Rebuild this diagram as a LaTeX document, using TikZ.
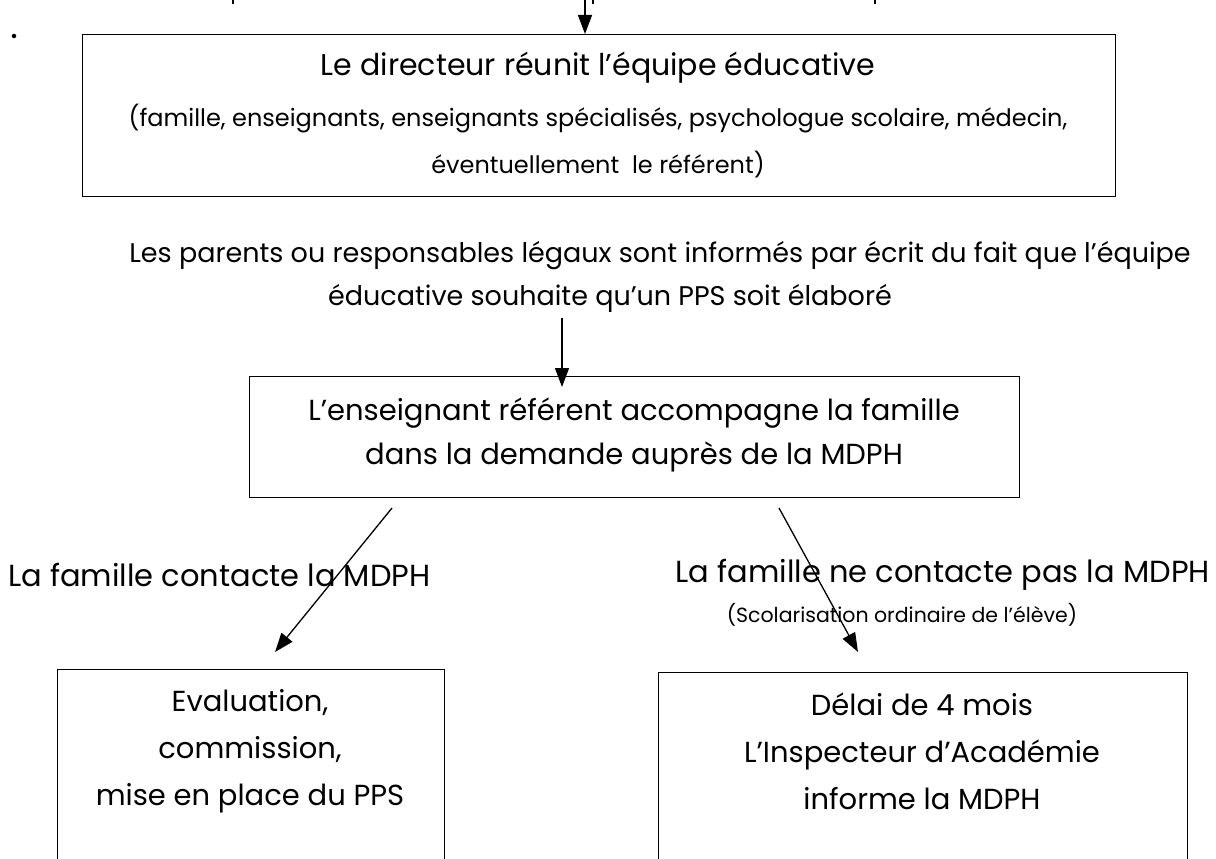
\documentclass[tikz,border=0pt]{standalone}
\usepackage{fontspec}
\setmainfont{Poppins}
\usetikzlibrary{arrows.meta}
\tikzset{
  frame/.style={draw, line width=1.3pt, inner sep=0pt},
  big/.style={font=\fontsize{30}{34}\selectfont, align=center, inner sep=0pt},
  para/.style={font=\fontsize{27}{34}\selectfont, align=center, inner sep=0pt},
  mid/.style={font=\fontsize{29}{44}\selectfont, align=center, inner sep=0pt},
  lower/.style={font=\fontsize{29}{47}\selectfont, align=center, inner sep=0pt},
  label/.style={font=\fontsize{30.5}{34}\selectfont, inner sep=0pt},
  small/.style={font=\fontsize{24}{47}\selectfont, align=center, inner sep=0pt},
  tiny/.style={font=\fontsize{20.5}{24}\selectfont, align=center, inner sep=0pt},
  arr/.style={line width=1.3pt, -{Triangle[length=19pt,width=14pt]}},
  frag/.style={line width=1.3pt}
}
\begin{document}
\begin{tikzpicture}[x=1pt,y=-1pt]
\clip (0,0) rectangle (1216,859);
\useasboundingbox (0,0) rectangle (1216,859);
% fragments of the previous line
\coordinate (f1a) at (233,0); \coordinate (f1b) at (233,4);
\coordinate (f2a) at (593,0); \coordinate (f2b) at (593,4);
\coordinate (f3a) at (875,0); \coordinate (f3b) at (875,4);
\draw[frag] (f1a) -- (f1b);
\draw[frag] (f2a) -- (f2b);
\draw[frag] (f3a) -- (f3b);
\node[circle, fill, inner sep=1.6pt] (dot) at (14,36) {};
% box 1
\node[frame, minimum width=1033pt, minimum height=162pt, anchor=north west] (b1) at (82,34) {};
\node[big] (b1t1) at (598,68) {Le directeur réunit l’équipe éducative};
\node[small] (b1t2) at (598,141) {(famille, enseignants, enseignants spécialisés, psychologue scolaire, médecin,\\éventuellement~~le référent)};
\coordinate (topin) at (585,0);
\draw[arr] (topin) -- (topin |- b1.north);
% paragraph
\node[para] (para1) at (660,256) {Les parents ou responsables légaux sont informés par écrit du fait que l’équipe};
\node[para] (para2) at (610,298) {éducative souhaite qu’un PPS soit élaboré};
% box 2
\node[frame, minimum width=770pt, minimum height=121pt, anchor=north west] (b2) at (249,376) {};
\node[mid] (b2t) at (634,435) {L’enseignant référent accompagne la famille\\dans la demande auprès de la MDPH};
\coordinate (a2s) at (562,318);
\draw[arr] (a2s) -- ([yshift=-11pt]a2s |- b2.north);
% branch labels
\node[label, anchor=west] (lab1) at (8,575) {La famille contacte la MDPH};
\node[label, anchor=east] (lab2) at (1210,575) {La famille ne contacte pas la MDPH};
\node[tiny] (lab2s) at (902,615) {(Scolarisation ordinaire de l’élève)};
% diagonal arrows
\coordinate (d1s) at (392,508); \coordinate (d1e) at (275,652);
\coordinate (d2s) at (779,508); \coordinate (d2e) at (858,652);
\draw[arr] (d1s) -- (d1e);
\draw[arr] (d2s) -- (d2e);
% lower boxes (open at the bottom of the page)
\node[frame, minimum width=387pt, minimum height=220pt, anchor=north west] (b3) at (57,669) {};
\node[lower] (b3t) at (250,751) {Evaluation,\\commission,\\mise en place du PPS};
\node[frame, minimum width=529pt, minimum height=220pt, anchor=north west] (b4) at (658,672) {};
\node[lower] (b4t) at (922,751) {Délai de 4 mois\\L’Inspecteur d’Académie\\informe la MDPH};
\end{tikzpicture}
\end{document}
